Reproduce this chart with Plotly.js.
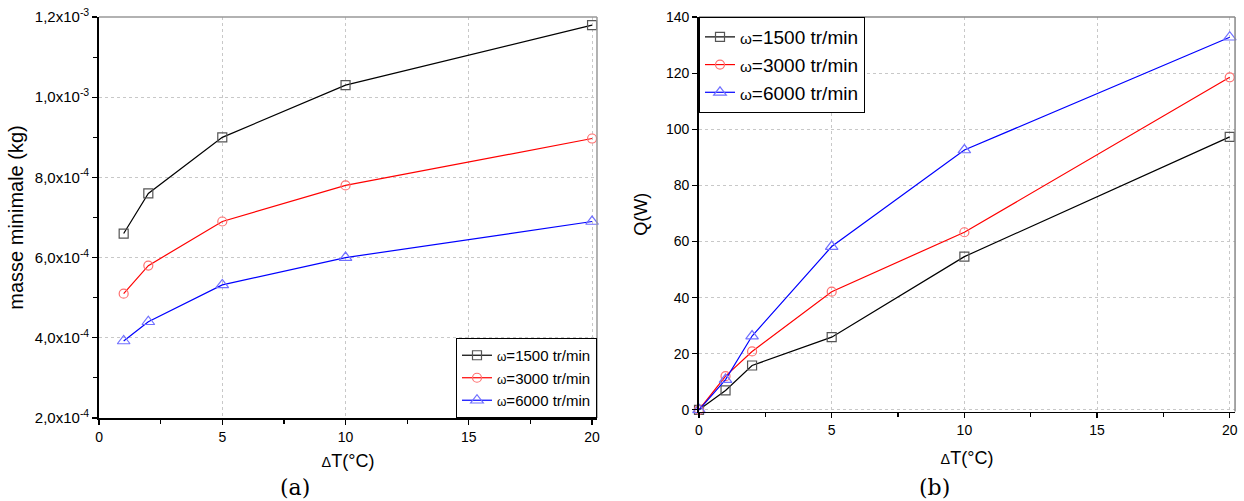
<!DOCTYPE html>
<html>
<head>
<meta charset="utf-8">
<script src="https://cdn.plot.ly/plotly-3.0.1.min.js"></script>
<style>html,body{margin:0;padding:0;background:#fff;}#chart{width:1244px;height:501px;}</style>
</head>
<body>
<div id="chart"></div>
<script>
// ---- data ----
const deltaT_a = [1, 2, 5, 10, 20];
const masse_1500 = [6.6e-4, 7.6e-4, 9.0e-4, 1.03e-3, 1.18e-3];
const masse_3000 = [5.1e-4, 5.8e-4, 6.9e-4, 7.8e-4, 8.97e-4];
const masse_6000 = [3.92e-4, 4.4e-4, 5.32e-4, 6.0e-4, 6.9e-4];

const deltaT_b = [0, 1, 2, 5, 10, 20];
const Q_1500 = [0, 6.9, 15.8, 25.9, 54.6, 97.3];
const Q_3000 = [0, 12.0, 20.8, 42.1, 63.3, 118.5];
const Q_6000 = [0, 10.8, 26.3, 58.2, 92.6, 132.8];

const seriesNames = ['1500', '3000', '6000'];
const yTickVals_a = [2e-4, 4e-4, 6e-4, 8e-4, 1.0e-3, 1.2e-3];
const yTickText_a = ['2,0x10<sup>-4</sup>', '4,0x10<sup>-4</sup>', '6,0x10<sup>-4</sup>',
                     '8,0x10<sup>-4</sup>', '1,0x10<sup>-3</sup>', '1,2x10<sup>-3</sup>'];
const yTickVals_b = [0, 20, 40, 60, 80, 100, 120, 140];
const xTickVals = [0, 5, 10, 15, 20];

// ---- styles ----
const lineColors = ['#000000', '#ff0000', '#0000ff'];
const markerColors = ['#555555', '#ff7070', '#7070ff'];
const symbols = ['square-open', 'circle-open', 'triangle-up-open'];
const omega = '<span style="font-size:0.8em">ω</span>';

function mk(x, y, i, xa, ya, leg) {
  return {
    x: x, y: y, type: 'scatter', mode: 'lines+markers',
    name: omega + '=' + seriesNames[i] + ' tr/min',
    xaxis: xa, yaxis: ya, legend: leg,
    line: {color: lineColors[i], width: 1.2},
    marker: {symbol: symbols[i], size: i === 2 ? 11 : 9, color: markerColors[i],
             line: {color: markerColors[i], width: 1.2}},
    cliponaxis: false
  };
}

const traces = [
  mk(deltaT_a, masse_1500, 0, 'x', 'y', 'legend'),
  mk(deltaT_a, masse_3000, 1, 'x', 'y', 'legend'),
  mk(deltaT_a, masse_6000, 2, 'x', 'y', 'legend'),
  mk(deltaT_b, Q_1500, 0, 'x2', 'y2', 'legend2'),
  mk(deltaT_b, Q_3000, 1, 'x2', 'y2', 'legend2'),
  mk(deltaT_b, Q_6000, 2, 'x2', 'y2', 'legend2')
];

const tickFont = {family: 'Liberation Sans, Arial, sans-serif', size: 14, color: '#000'};
const titleFont = {family: 'Liberation Sans, Arial, sans-serif', size: 18, color: '#000'};
const delta = '<span style="font-size:0.8em">Δ</span>';

function xax(domain, anchor, standoff) {
  return {
    domain: domain, anchor: anchor, range: [0, 20.2],
    tickvals: xTickVals, ticks: 'outside', ticklen: 5, tickwidth: 1.2, tickcolor: '#000',
    minor: {dtick: 2.5, tick0: 0, ticks: 'outside', ticklen: 4, tickcolor: '#000', showgrid: false},
    showline: true, linecolor: '#000', linewidth: 1.8,
    showgrid: true, gridcolor: '#c8c8c8', griddash: 'dot', gridwidth: 1,
    zeroline: false, tickfont: tickFont,
    title: {text: delta + 'T(°C)', font: titleFont, standoff: standoff}
  };
}

const layout = {
  width: 1244, height: 501,
  margin: {l: 0, r: 0, t: 0, b: 0},
  paper_bgcolor: '#fff', plot_bgcolor: '#fff',
  showlegend: true,
  xaxis: xax([0.0796, 0.4799], 'y', 11),
  xaxis2: xax([0.5619, 0.9928], 'y2', 14),
  yaxis: {
    domain: [0.1657, 0.966], anchor: 'x', range: [2e-4, 1.2e-3],
    tickvals: yTickVals_a, ticktext: yTickText_a,
    ticks: 'outside', ticklen: 5, tickwidth: 1.2, tickcolor: '#000',
    minor: {dtick: 1e-4, tick0: 0, ticks: 'outside', ticklen: 4, tickcolor: '#000', showgrid: false},
    showline: true, linecolor: '#000', linewidth: 1.8,
    showgrid: true, gridcolor: '#c8c8c8', griddash: 'dot',
    zeroline: false, tickfont: {family: 'Liberation Sans, Arial, sans-serif', size: 15, color: '#000'},
    title: {text: 'masse minimale (kg)', font: {family: 'Liberation Sans, Arial, sans-serif', size: 20, color: '#000'}, standoff: 6}
  },
  yaxis2: {
    domain: [0.1786, 0.966], anchor: 'x2', range: [-0.6, 140],
    tickvals: yTickVals_b,
    ticks: 'outside', ticklen: 5, tickwidth: 1.2, tickcolor: '#000',
    showline: true, linecolor: '#000', linewidth: 1.8,
    showgrid: true, gridcolor: '#c8c8c8', griddash: 'dot',
    zeroline: false, tickfont: tickFont,
    title: {text: 'Q(W)', font: titleFont, standoff: 14}
  },
  legend: {
    x: 0.4799, y: 0.1657, xanchor: 'right', yanchor: 'bottom',
    bgcolor: '#fff', bordercolor: '#000', borderwidth: 1,
    font: {family: 'Liberation Sans, Arial, sans-serif', size: 15, color: '#000'},
    tracegroupgap: 0, itemwidth: 30
  },
  legend2: {
    x: 0.5619, y: 0.966, xanchor: 'left', yanchor: 'top',
    bgcolor: '#fff', bordercolor: '#000', borderwidth: 1,
    font: {family: 'Liberation Sans, Arial, sans-serif', size: 19, color: '#000'},
    tracegroupgap: 0, itemwidth: 30
  },
  shapes: [
    {type: 'line', xref: 'x domain', yref: 'y domain', x0: 0, x1: 1, y0: 1, y1: 1, line: {color: '#999', width: 1.5}},
    {type: 'line', xref: 'x domain', yref: 'y domain', x0: 1, x1: 1, y0: 0, y1: 1, line: {color: '#999', width: 1.5}},
    {type: 'line', xref: 'x2 domain', yref: 'y2 domain', x0: 0, x1: 1, y0: 1, y1: 1, line: {color: '#888', width: 1.5}},
    {type: 'line', xref: 'x2 domain', yref: 'y2 domain', x0: 1, x1: 1, y0: 0, y1: 1, line: {color: '#888', width: 1.5}}
  ],
  annotations: [
    {text: '(a)', xref: 'paper', yref: 'paper', x: 295 / 1244, y: 1 - 487 / 501, xanchor: 'center', yanchor: 'middle',
     showarrow: false, font: {family: 'DejaVu Serif, Liberation Serif, serif', size: 22, color: '#000'}},
    {text: '(b)', xref: 'paper', yref: 'paper', x: 934 / 1244, y: 1 - 487 / 501, xanchor: 'center', yanchor: 'middle',
     showarrow: false, font: {family: 'DejaVu Serif, Liberation Serif, serif', size: 22, color: '#000'}}
  ]
};

Plotly.newPlot('chart', traces, layout, {displayModeBar: false, staticPlot: true});
</script>
</body>
</html>
